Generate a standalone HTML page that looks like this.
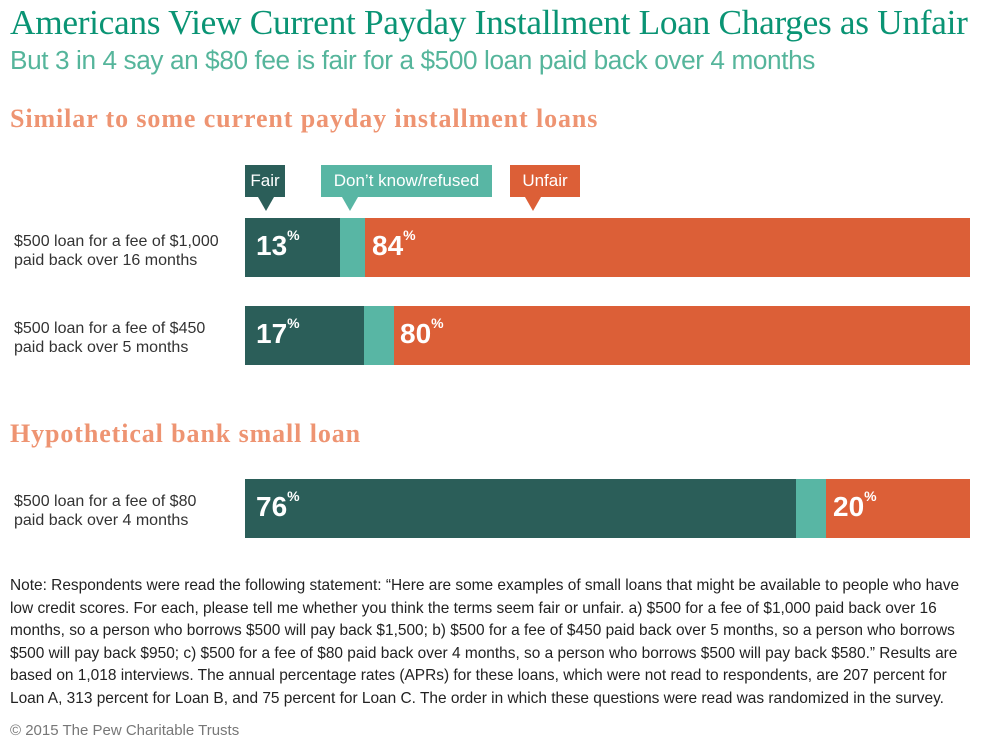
<!DOCTYPE html>
<html><head><style>
body{margin:0;width:990px;height:749px;background:#fff;font-family:"Liberation Sans",sans-serif;position:relative;overflow:hidden}
.a{position:absolute;white-space:nowrap}
.t{left:10px;top:3px;font-family:"Liberation Serif",serif;font-size:35.3px;color:#0a9474;letter-spacing:-0.3px}
.s{left:10px;top:45px;font-size:26.2px;color:#55b59b;letter-spacing:-0.4px}
.h{font-family:"Liberation Serif",serif;font-weight:bold;font-size:26px;letter-spacing:0.9px;color:#ee9472;left:10px}
.bar{position:absolute;height:59px}
.d{background:#2b5e59}.k{background:#58b6a4}.o{background:#dc5f37}
.p{position:absolute;color:#fff;font-weight:bold;font-size:28px;top:13px}
.p sup{font-size:14px;vertical-align:top;position:relative;top:-3px}
.lab{font-size:16px;color:#333;left:14px;line-height:19px}
.tag{position:absolute;height:32px;top:165px;color:#fff;font-size:17px;line-height:32px;text-align:center}
.tri{position:absolute;top:197px;width:0;height:0;border-left:8px solid transparent;border-right:8px solid transparent;border-top:14px solid}
.n{left:10px;top:575px;font-size:15.45px;color:#222;line-height:22.6px;white-space:normal;width:972px}
</style></head><body>
<div class="a t">Americans View Current Payday Installment Loan Charges as Unfair</div>
<div class="a s">But 3 in 4 say an $80 fee is fair for a $500 loan paid back over 4 months</div>
<div class="a h" style="top:104px">Similar to some current payday installment loans</div>
<div class="a h" style="top:419px">Hypothetical bank small loan</div>

<div class="tag d" style="left:245px;width:40px">Fair</div><div class="tri" style="left:258px;border-top-color:#2b5e59"></div>
<div class="tag k" style="left:321px;width:171px">Don’t know/refused</div><div class="tri" style="left:342px;border-top-color:#58b6a4"></div>
<div class="tag o" style="left:510px;width:70px">Unfair</div><div class="tri" style="left:525px;border-top-color:#dc5f37"></div>

<div class="a lab" style="top:232px">$500 loan for a fee of $1,000<br>paid back over 16 months</div>
<div class="bar d" style="left:245px;top:218px;width:95px"></div>
<div class="bar k" style="left:340px;top:218px;width:25px"></div>
<div class="bar o" style="left:365px;top:218px;width:605px"></div>
<div class="p" style="left:256px;top:230px">13<sup>%</sup></div>
<div class="p" style="left:372px;top:230px">84<sup>%</sup></div>

<div class="a lab" style="top:319px">$500 loan for a fee of $450<br>paid back over 5 months</div>
<div class="bar d" style="left:245px;top:306px;width:119px"></div>
<div class="bar k" style="left:364px;top:306px;width:30px"></div>
<div class="bar o" style="left:394px;top:306px;width:576px"></div>
<div class="p" style="left:256px;top:318px">17<sup>%</sup></div>
<div class="p" style="left:400px;top:318px">80<sup>%</sup></div>

<div class="a lab" style="top:492px">$500 loan for a fee of $80<br>paid back over 4 months</div>
<div class="bar d" style="left:245px;top:479px;width:551px"></div>
<div class="bar k" style="left:796px;top:479px;width:30px"></div>
<div class="bar o" style="left:826px;top:479px;width:144px"></div>
<div class="p" style="left:256px;top:491px">76<sup>%</sup></div>
<div class="p" style="left:833px;top:491px">20<sup>%</sup></div>

<div class="a n">Note: Respondents were read the following statement: “Here are some examples of small loans that might be available to people who have low credit scores. For each, please tell me whether you think the terms seem fair or unfair. a) $500 for a fee of $1,000 paid back over 16 months, so a person who borrows $500 will pay back $1,500; b) $500 for a fee of $450 paid back over 5 months, so a person who borrows $500 will pay back $950; c) $500 for a fee of $80 paid back over 4 months, so a person who borrows $500 will pay back $580.” Results are based on 1,018 interviews. The annual percentage rates (APRs) for these loans, which were not read to respondents, are 207 percent for Loan A, 313 percent for Loan B, and 75 percent for Loan C. The order in which these questions were read was randomized in the survey.</div>
<div class="a" style="left:10px;top:722px;font-size:15px;color:#777">© 2015 The Pew Charitable Trusts</div>
</body></html>
